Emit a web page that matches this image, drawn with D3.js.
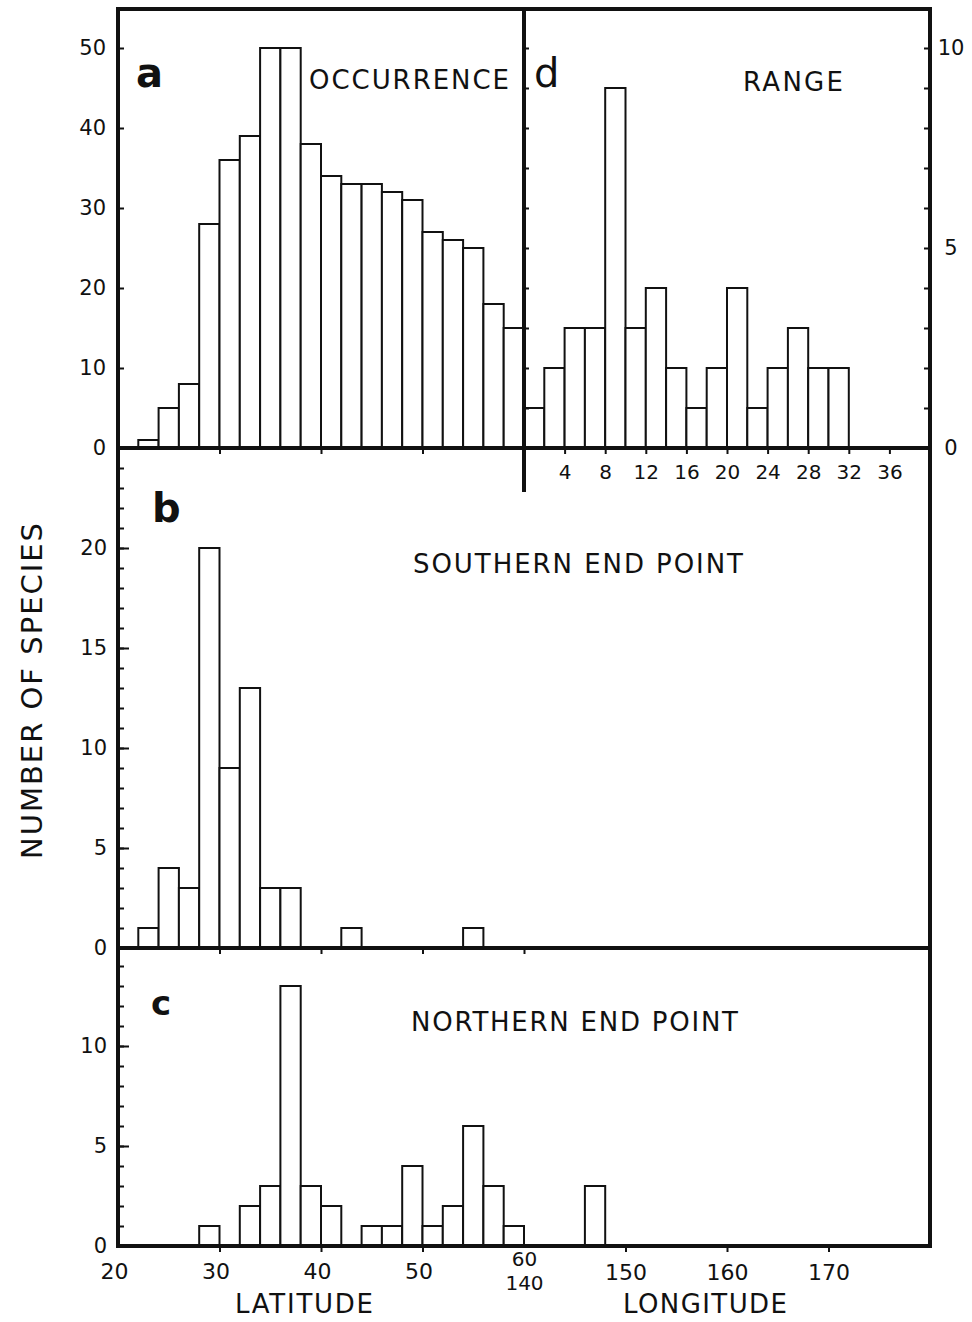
<!DOCTYPE html>
<html>
<head>
<meta charset="utf-8">
<script src="https://cdn.jsdelivr.net/npm/d3@7"></script>
<style>
  body { margin: 0; background: #fff; }
  svg { display: block; }
  text { font-family: "DejaVu Sans", sans-serif; fill: #111; }
  .tick line { stroke: #111; stroke-width: 2; }
</style>
</head>
<body>
<svg id="chart" width="972" height="1322"></svg>
<script>
// ---- data: 2-degree bins, each array holds the lower edge of the bin ----
const occurrenceBins = [22, 24, 26, 28, 30, 32, 34, 36, 38, 40, 42, 44, 46, 48, 50, 52, 54, 56, 58];
const occurrence     = [ 1,  5,  8, 28, 36, 39, 50, 50, 38, 34, 33, 33, 32, 31, 27, 26, 25, 18, 15];

const rangeBins = [0, 2, 4, 6, 8, 10, 12, 14, 16, 18, 20, 22, 24, 26, 28, 30];
const rangeCounts = [1, 2, 3, 3, 9, 3, 4, 2, 1, 2, 4, 1, 2, 3, 2, 2];

const southBins = [22, 24, 26, 28, 30, 32, 34, 36, 42, 54];
const southern  = [ 1,  4,  3, 20,  9, 13,  3,  3,  1,  1];

const northLatBins = [28, 32, 34, 36, 38, 40, 44, 46, 48, 50, 52, 54, 56, 58];
const northernLat  = [ 1,  2,  3, 13,  3,  2,  1,  1,  4,  1,  2,  6,  3,  1];
const northLonBins = [146];
const northernLon  = [3];

const latTickLabels = [20, 30, 40, 50];
const lonTickLabels = [150, 160, 170];
const rangeTickLabels = [4, 8, 12, 16, 20, 24, 28, 32, 36];

// ---- layout ----
const svg = d3.select("#chart");
const L = 118, R = 930, MID = 524, TOP = 9, Y_AB = 448, Y_BC = 948, BOT = 1246;
const INK = "#111";

const xLat = d3.scaleLinear().domain([20, 60]).range([L, MID]);
const xLon = d3.scaleLinear().domain([140, 180]).range([MID, R]);
const xRange = d3.scaleLinear().domain([0, 40]).range([MID, R]);

const yA = d3.scaleLinear().domain([0, 55]).range([Y_AB, Y_AB - 440]);
const yD = d3.scaleLinear().domain([0, 11]).range([Y_AB, Y_AB - 440]);
const yB = d3.scaleLinear().domain([0, 25]).range([Y_BC, Y_BC - 500]);
const yC = d3.scaleLinear().domain([0, 15]).range([BOT, BOT - 300]);

function bars(starts, values, x, y, w) {
  svg.append("g").selectAll("rect")
    .data(starts.map((s, i) => ({ s, v: values[i] })))
    .join("rect")
    .attr("x", d => x(d.s))
    .attr("width", d => x(d.s + w) - x(d.s))
    .attr("y", d => y(d.v))
    .attr("height", d => y(0) - y(d.v))
    .attr("fill", "#fff")
    .attr("stroke", INK)
    .attr("stroke-width", 2);
}

bars(occurrenceBins, occurrence, xLat, yA, 2);
bars(rangeBins, rangeCounts, xRange, yD, 2);
bars(southBins, southern, xLat, yB, 2);
bars(northLatBins, northernLat, xLat, yC, 2);
bars(northLonBins, northernLon, xLon, yC, 2);

// ---- axes ----
function axis(gen, tx, ty, opts = {}) {
  const g = svg.append("g").attr("transform", `translate(${tx},${ty})`).call(gen);
  g.select(".domain").remove();
  g.selectAll("text").attr("font-size", opts.size || 21).attr("fill", INK);
  return g;
}
const noLabel = () => "";

// panel a, left
axis(d3.axisLeft(yA).tickValues([0, 10, 20, 30, 40, 50]).tickSizeInner(-6).tickSizeOuter(0).tickPadding(12), L, 0);
// panel a, ticks on the divider
axis(d3.axisRight(yA).tickValues(d3.range(0, 56, 5)).tickSize(5).tickFormat(noLabel), MID, 0);
// panel a, bottom ticks
axis(d3.axisBottom(xLat).tickValues([30, 40, 50]).tickSize(6).tickFormat(noLabel), 0, Y_AB);

// panel d, right axis
axis(d3.axisRight(yD).tickValues(d3.range(0, 11)).tickSizeInner(-6).tickSizeOuter(0).tickFormat(noLabel), R, 0);
axis(d3.axisRight(yD).tickValues([0, 5, 10]).tickSize(0).tickPadding(21), R, 0)
  .selectAll("text").attr("text-anchor", "middle");
// panel d, bottom
axis(d3.axisBottom(xRange).tickValues(rangeTickLabels).tickSize(6).tickPadding(11), 0, Y_AB, { size: 20 });

// panel b
axis(d3.axisLeft(yB).tickValues(d3.range(0, 25)).tickSizeInner(-6).tickSizeOuter(0).tickFormat(noLabel), L, 0);
axis(d3.axisLeft(yB).tickValues([0, 5, 10, 15, 20]).tickSizeInner(-11).tickSizeOuter(0).tickPadding(11), L, 0);
axis(d3.axisBottom(xLat).tickValues([30, 40, 50, 60]).tickSize(6).tickFormat(noLabel), 0, Y_BC);

// panel c
axis(d3.axisLeft(yC).tickValues(d3.range(0, 15)).tickSizeInner(-6).tickSizeOuter(0).tickFormat(noLabel), L, 0);
axis(d3.axisLeft(yC).tickValues([0, 5, 10]).tickSizeInner(-11).tickSizeOuter(0).tickPadding(11), L, 0);
axis(d3.axisBottom(xLat).tickValues([30, 40, 50]).tickSize(6).tickFormat(noLabel), 0, BOT);
axis(d3.axisBottom(xLon).tickValues(lonTickLabels).tickSize(6).tickFormat(noLabel), 0, BOT);

// bottom tick labels: latitude 20-60, longitude 140-170
axis(d3.axisBottom(xLat).tickValues(latTickLabels).tickSize(0).tickPadding(17), 0, BOT, { size: 22 })
  .selectAll("text").attr("dx", -4);
// 60 (latitude) stacked above 140 (longitude) at the shared junction
axis(d3.axisBottom(xLat).tickValues([60]).tickSize(0).tickPadding(6), 0, BOT, { size: 20 });
axis(d3.axisBottom(xLon).tickValues([140]).tickSize(0).tickPadding(30), 0, BOT, { size: 20 });
axis(d3.axisBottom(xLon).tickValues(lonTickLabels).tickSize(0).tickPadding(18), 0, BOT, { size: 22 });

// ---- frame and panel dividers ----
const frame = svg.append("g").attr("stroke", INK).attr("fill", "none").attr("stroke-width", 4);
frame.append("rect").attr("x", L).attr("y", TOP).attr("width", R - L).attr("height", BOT - TOP);
frame.append("line").attr("x1", L).attr("x2", R).attr("y1", Y_AB).attr("y2", Y_AB);
frame.append("line").attr("x1", L).attr("x2", R).attr("y1", Y_BC).attr("y2", Y_BC);
frame.append("line").attr("x1", MID).attr("x2", MID).attr("y1", TOP).attr("y2", 492);

// ---- labels ----
function label(txt, x, y, size, opts = {}) {
  const t = svg.append("text").attr("x", x).attr("y", y).attr("font-size", size).text(txt);
  if (opts.bold) t.attr("font-weight", "bold");
  if (opts.width) t.attr("textLength", opts.width).attr("lengthAdjust", "spacing");
  if (opts.anchor) t.attr("text-anchor", opts.anchor);
  return t;
}

label("a", 136, 87, 40, { bold: true });
label("d", 534, 87, 40);
label("b", 152, 522, 40, { bold: true });
label("c", 151, 1015, 34, { bold: true });

label("OCCURRENCE", 309, 89, 26, { width: 200 });
label("RANGE", 743, 91, 26, { width: 100 });
label("SOUTHERN END POINT", 413, 573, 26, { width: 330 });
label("NORTHERN END POINT", 411, 1031, 26, { width: 327 });

label("LATITUDE", 235, 1313, 26, { width: 138 });
label("LONGITUDE", 623, 1313, 26, { width: 164 });

svg.append("text")
  .attr("transform", "translate(42,691) rotate(-90)")
  .attr("text-anchor", "middle")
  .attr("font-size", 29)
  .attr("textLength", 336)
  .attr("lengthAdjust", "spacing")
  .text("NUMBER OF SPECIES");
</script>
</body>
</html>
